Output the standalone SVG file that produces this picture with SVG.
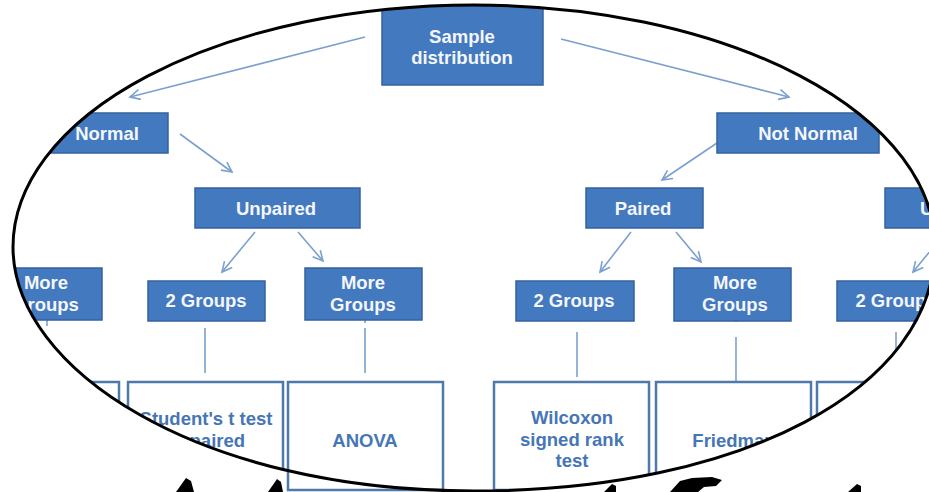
<svg xmlns="http://www.w3.org/2000/svg" width="929" height="492" viewBox="0 0 929 492">
<style>
.box{fill:#4279bf;stroke:#3462a0;stroke-width:1.5}
.res{fill:#ffffff;stroke:#4f78ad;stroke-width:2.5}
.t{font-family:"Liberation Sans",Arial,sans-serif;font-weight:bold;font-size:18.5px;fill:#f4f6fa;text-anchor:middle}
.rt{font-family:"Liberation Sans",Arial,sans-serif;font-weight:bold;font-size:18.5px;fill:#4676b5;text-anchor:middle}
.arr{stroke:#7ba0cf;stroke-width:1.6;fill:none;marker-end:url(#ah)}
.ln{stroke:#7ba0cf;stroke-width:1.6;fill:none}
</style>
<defs>
<marker id="ah" markerUnits="userSpaceOnUse" markerWidth="14" markerHeight="14" refX="11" refY="6" orient="auto">
<path d="M1,1 L11,6 L1,11" fill="none" stroke="#7ba0cf" stroke-width="1.6"/>
</marker>
<path id="oval" d="M935,247 A461,242 0 0 0 13,247 C13,369 197.4,491 474,491 C741.4,491 935,388.5 935,247 Z"/>
<clipPath id="clip">
<use href="#oval"/>
<rect x="286" y="400" width="214" height="92"/>
</clipPath>
</defs>
<rect width="929" height="492" fill="#ffffff"/>
<g clip-path="url(#clip)">
<g id="connectors">
<line class="arr" x1="365" y1="37" x2="130" y2="97"/>
<line class="arr" x1="561" y1="39" x2="789" y2="97"/>
<line class="arr" x1="180" y1="134" x2="232" y2="172"/>
<line class="arr" x1="717" y1="143" x2="662" y2="180"/>
<line class="arr" x1="255" y1="232" x2="222" y2="272"/>
<line class="arr" x1="298" y1="232" x2="323" y2="261"/>
<line class="arr" x1="631" y1="232" x2="600" y2="272"/>
<line class="arr" x1="676" y1="232" x2="701" y2="262"/>
<line class="arr" x1="931" y1="250" x2="913" y2="272"/>
<line class="ln" x1="47" y1="320" x2="47" y2="326"/>
<line class="ln" x1="205" y1="328" x2="205" y2="373"/>
<line class="ln" x1="365" y1="319" x2="365" y2="323"/>
<line class="ln" x1="365" y1="328" x2="365" y2="373"/>
<line class="ln" x1="577" y1="332" x2="577" y2="377"/>
<line class="ln" x1="736" y1="317" x2="736" y2="322"/>
<line class="ln" x1="736" y1="337" x2="736" y2="382"/>
<line class="ln" x1="896" y1="332" x2="896" y2="377"/>
</g>
<g id="sample"><rect class="box" x="382" y="0" width="161" height="85"/><text class="t" x="462" y="43" font-size="19">Sample</text><text class="t" x="462" y="64" font-size="19">distribution</text></g>
<g id="normal"><rect class="box" x="30" y="113" width="138" height="40"/><text class="t" x="107" y="140">Normal</text></g>
<g id="notnormal"><rect class="box" x="717" y="113" width="162" height="40"/><text class="t" x="808" y="140">Not Normal</text></g>
<g id="unpaired"><rect class="box" x="195" y="188" width="165" height="40"/><text class="t" x="276" y="215">Unpaired</text></g>
<g id="paired"><rect class="box" x="586" y="188" width="117" height="40"/><text class="t" x="643" y="215">Paired</text></g>
<g id="unpaired2"><rect class="box" x="885" y="188" width="150" height="40"/><text class="t" x="960" y="215">Unpaired</text></g>
<g id="moregroups0"><rect class="box" x="-10" y="268" width="112" height="52"/><text class="t" x="46" y="289">More</text><text class="t" x="46" y="311">Groups</text></g>
<g id="twogroups1"><rect class="box" x="148" y="281" width="117" height="40"/><text class="t" x="206" y="307">2 Groups</text></g>
<g id="moregroups1"><rect class="box" x="305" y="268" width="117" height="52"/><text class="t" x="363" y="289">More</text><text class="t" x="363" y="311">Groups</text></g>
<g id="twogroups2"><rect class="box" x="516" y="281" width="118" height="40"/><text class="t" x="574" y="307">2 Groups</text></g>
<g id="moregroups2"><rect class="box" x="674" y="268" width="117" height="53"/><text class="t" x="735" y="289">More</text><text class="t" x="735" y="311">Groups</text></g>
<g id="twogroups3"><rect class="box" x="837" y="281" width="120" height="40"/><text class="t" x="896" y="307">2 Groups</text></g>
<g id="res0"><rect class="res" x="-40" y="382" width="159" height="130"/></g>
<g id="student"><rect class="res" x="128" y="382" width="155" height="130"/><text class="rt" x="206" y="425">Student's t test</text><text class="rt" x="206" y="447">unpaired</text></g>
<g id="anova"><rect class="res" x="288" y="382" width="155" height="108"/><text class="rt" x="365" y="447">ANOVA</text></g>
<g id="wilcoxon"><rect class="res" x="494" y="382" width="155" height="108"/><text class="rt" x="572" y="424">Wilcoxon</text><text class="rt" x="572" y="446">signed rank</text><text class="rt" x="572" y="467">test</text></g>
<g id="friedman"><rect class="res" x="656" y="382" width="155" height="108"/><text class="rt" x="734" y="447">Friedman</text></g>
<g id="res5"><rect class="res" x="817" y="382" width="155" height="108"/></g>
</g>
<use href="#oval" fill="none" stroke="#000000" stroke-width="3"/>
<g id="fragments" fill="#000000">
<polygon points="176,492 186,478 191,481 194,492"/>
<polygon points="268,492 277,479 281,482 283,492"/>
<polygon points="604,492 612,484 616,486 616,492"/>
<polygon points="670,492 680,481 692,478 712,477 722,480 716,486 704,487 698,492"/>
<polygon points="848,492 857,484 861,486 861,492"/>
</g>
</svg>
